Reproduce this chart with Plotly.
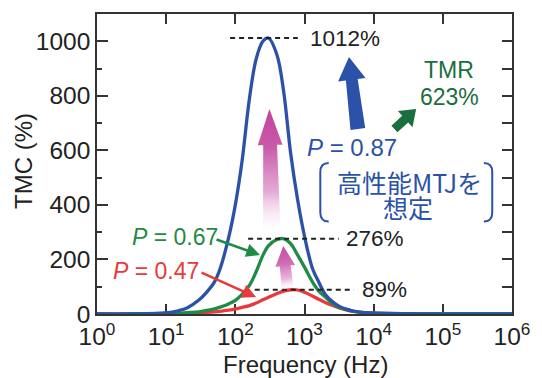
import math
import base64
import plotly.graph_objects as go

# ---------------- data ----------------
freq_hz = [1, 3, 10, 15, 20, 30, 40, 50, 60, 80, 100, 125, 160, 200, 250, 300,
           400, 500, 630, 800, 1000, 1300, 1600, 2000, 2500, 3200, 4000, 5000,
           7000, 10000, 30000, 100000, 1000000]

tmc_p047 = [0, 0, 1, 1, 2, 4, 6, 8, 10, 14, 18, 24, 31, 40, 52, 61,
            75, 84, 89, 88, 80, 66, 54, 42, 32, 22, 15, 10,
            5, 3, 1, 0, 0]

tmc_p067 = [0, 0, 2, 3, 5, 8, 14, 19, 25, 37, 50, 72, 105, 155, 215, 250,
            273, 276, 258, 215, 172, 118, 85, 62, 40, 24, 17, 11,
            5, 3, 1, 0, 0]

tmc_p087 = [0, 0, 4, 12, 22, 52, 85, 118, 165, 280, 400, 560, 790, 935, 1000, 1012,
            950, 815, 590, 415, 285, 168, 118, 72, 47, 28, 18, 11,
            6, 3, 1, 0, 0]

polarization_labels = ["0.47", "0.67", "0.87"]
tmr_label = "623%"
x_tick_exponents = [0, 1, 2, 3, 4, 5, 6]
y_tick_values = [0, 200, 400, 600, 800, 1000]

# ---------------- styling ----------------
W, H = 542, 378
ML, MR, MT, MB = 97, 25, 14, 64
PW, PH = W - ML - MR, H - MT - MB

BLUE = "#2b52a8"
GREEN = "#1f8b45"
DARK_GREEN = "#1b6e3e"
RED = "#e8393c"
AXIS = "#333333"
TEXT = "#222222"
LATIN = "Liberation Sans, Arial, sans-serif"
CJK = "Noto Sans CJK JP, sans-serif"


def px(x):
    """pixel x -> paper x"""
    return (x - ML) / PW


def py(y):
    """pixel y (from top) -> paper y"""
    return (H - MB - y) / PH


def arrow_polygon(tail, tip, w_tail, w_neck, head_w, head_len):
    dx, dy = tip[0] - tail[0], tip[1] - tail[1]
    n = math.hypot(dx, dy)
    ux, uy = dx / n, dy / n
    nx, ny = -uy, ux
    bx, by = tip[0] - ux * head_len, tip[1] - uy * head_len
    return [
        (tail[0] + nx * w_tail, tail[1] + ny * w_tail),
        (bx + nx * w_neck, by + ny * w_neck),
        (bx + nx * head_w, by + ny * head_w),
        tip,
        (bx - nx * head_w, by - ny * head_w),
        (bx - nx * w_neck, by - ny * w_neck),
        (tail[0] - nx * w_tail, tail[1] - ny * w_tail),
    ]


def solid_arrow_shape(pts, color):
    path = "M " + " L ".join(f"{px(x):.5f},{py(y):.5f}" for x, y in pts) + " Z"
    return dict(type="path", xref="paper", yref="paper", path=path,
                fillcolor=color, line=dict(width=0), layer="above")


def gradient_arrow_image(tail, tip, w_tail, w_neck, head_w, head_len, stops):
    pts = arrow_polygon(tail, tip, w_tail, w_neck, head_w, head_len)
    xs = [p[0] for p in pts]
    ys = [p[1] for p in pts]
    x0, x1 = min(xs) - 1, max(xs) + 1
    y0, y1 = min(ys) - 1, max(ys) + 1
    w, h = x1 - x0, y1 - y0
    poly = " ".join(f"{x - x0:.2f},{y - y0:.2f}" for x, y in pts)
    stop_xml = "".join(
        f'<stop offset="{o}" stop-color="{c}" stop-opacity="{a}"/>' for o, c, a in stops)
    svg = (f'<svg xmlns="http://www.w3.org/2000/svg" width="{w:.2f}" height="{h:.2f}" '
           f'viewBox="0 0 {w:.2f} {h:.2f}"><defs><linearGradient id="g" '
           f'gradientUnits="userSpaceOnUse" x1="{tip[0] - x0:.2f}" y1="{tip[1] - y0:.2f}" '
           f'x2="{tail[0] - x0:.2f}" y2="{tail[1] - y0:.2f}">{stop_xml}</linearGradient></defs>'
           f'<polygon points="{poly}" fill="url(#g)"/></svg>')
    src = "data:image/svg+xml;base64," + base64.b64encode(svg.encode()).decode()
    return dict(source=src, xref="paper", yref="paper", x=px(x0), y=py(y0),
                sizex=w / PW, sizey=h / PH, xanchor="left", yanchor="top",
                sizing="stretch", layer="above")


def bracket_shape(x_end, x_side, y_top, y_bot, r, color):
    p = (f"M {px(x_end):.5f},{py(y_top):.5f} "
         f"Q {px(x_side):.5f},{py(y_top):.5f} {px(x_side):.5f},{py(y_top + r):.5f} "
         f"L {px(x_side):.5f},{py(y_bot - r):.5f} "
         f"Q {px(x_side):.5f},{py(y_bot):.5f} {px(x_end):.5f},{py(y_bot):.5f}")
    return dict(type="path", xref="paper", yref="paper", path=p,
                line=dict(color=color, width=2), layer="above")


fig = go.Figure()

# TMC spectra (highest polarization drawn last, on top)
for vals, color in [(tmc_p047, RED), (tmc_p067, GREEN), (tmc_p087, BLUE)]:
    fig.add_trace(go.Scatter(
        x=freq_hz, y=vals, mode="lines",
        line=dict(color=color, width=3.3, shape="spline", smoothing=1),
        cliponaxis=False, hoverinfo="skip", showlegend=False))

# dashed guides at each peak value
guide_spans_hz = [(84, 800), (153, 3130), (191, 5180)]
label_left_px = [311, 347, 363]
for series, span, lx in zip([tmc_p087, tmc_p067, tmc_p047], guide_spans_hz, label_left_px):
    peak = max(series)
    fig.add_trace(go.Scatter(
        x=list(span), y=[peak, peak], mode="lines", yaxis="y2",
        line=dict(color="#222222", width=2, dash="5px,4px"),
        hoverinfo="skip", showlegend=False))
    fig.add_annotation(x=px(lx), y=peak, xref="paper", yref="y", text=f"{peak}%",
                       showarrow=False, xanchor="left", yanchor="middle",
                       font=dict(family=LATIN, size=22.5, color=TEXT))

annotations = [
    # axis titles
    dict(x=px(308), y=py(364), text="Frequency (Hz)", textangle=0,
         font=dict(family=LATIN, size=24, color=TEXT)),
    dict(x=px(22), y=py(161), text="TMC (%)", textangle=-90,
         font=dict(family=LATIN, size=24, color=TEXT)),
    # series labels
    dict(x=px(130), y=py(237), xanchor="left", text=f"<i>P</i> = {polarization_labels[1]}",
         font=dict(family=LATIN, size=23, color=GREEN)),
    dict(x=px(111), y=py(271), xanchor="left", text=f"<i>P</i> = {polarization_labels[0]}",
         font=dict(family=LATIN, size=23, color=RED)),
    dict(x=px(308), y=py(147), xanchor="left", text=f"<i>P</i> = {polarization_labels[2]}",
         font=dict(family=LATIN, size=24, color=BLUE)),
    dict(x=px(413), y=py(182), text="高性能MTJを",
         font=dict(family=CJK, size=25, color=BLUE)),
    dict(x=px(412), y=py(207), text="想定",
         font=dict(family=CJK, size=25, color=BLUE)),
    dict(x=px(453), y=py(70), text="TMR",
         font=dict(family=LATIN, size=23, color=DARK_GREEN)),
    dict(x=px(454), y=py(97), text=tmr_label,
         font=dict(family=LATIN, size=23, color=DARK_GREEN)),
]
for a in annotations:
    a.setdefault("xanchor", "center")
    fig.add_annotation(xref="paper", yref="paper", showarrow=False, yanchor="middle", **a)

# pointer arrows from the P labels to their curves
for tail, tip, color in [((217, 239), (262, 255), GREEN), ((202, 272), (258, 297), RED)]:
    fig.add_annotation(x=px(tip[0]), y=py(tip[1]), xref="paper", yref="paper",
                       ax=tail[0] - tip[0], ay=tail[1] - tip[1], text="",
                       showarrow=True, arrowhead=2, arrowsize=1.1, arrowwidth=2.5,
                       arrowcolor=color)

shapes = [
    solid_arrow_shape(arrow_polygon((361, 129), (352, 57), 7.5, 6, 14, 23), BLUE),
    solid_arrow_shape(arrow_polygon((398, 129), (420, 109), 4.5, 4.5, 11, 15), DARK_GREEN),
    bracket_shape(331.5, 323, 163, 221.5, 9, BLUE),
    bracket_shape(488.5, 497, 163, 221.5, 9, BLUE),
]

pink_stops_big = [(0, "#c2439c", 1), (0.3, "#c95aa9", 1), (0.65, "#e1a0d0", 0.9), (1, "#ffffff", 0)]
pink_stops_small = [(0, "#c24aa2", 1), (0.4, "#cf6fb5", 1), (0.75, "#e6b0d8", 0.9), (1, "#ffffff", 0)]
images = [
    gradient_arrow_image((274, 236), (271.5, 109), 9, 7, 12.5, 36, pink_stops_big),
    gradient_arrow_image((290, 290), (285.5, 246), 6, 5.5, 10, 20, pink_stops_small),
]

fig.update_layout(
    width=W, height=H,
    margin=dict(l=ML, r=MR, t=MT, b=MB, pad=0),
    paper_bgcolor="white", plot_bgcolor="white",
    shapes=shapes, images=images,
    xaxis=dict(
        type="log", range=[0, 6],
        tickvals=[10 ** k for k in x_tick_exponents],
        ticktext=[f"10<sup>{k}</sup>" for k in x_tick_exponents],
        ticks="inside", ticklen=10, tickwidth=1.5, tickcolor=AXIS,
        showline=True, linecolor=AXIS, linewidth=1.5, mirror="ticks",
        showgrid=False, zeroline=False, layer="below traces",
        tickfont=dict(family=LATIN, size=24.5, color=TEXT),
    ),
    yaxis=dict(
        range=[0, 1100], tickvals=y_tick_values,
        ticks="inside", ticklen=11, tickwidth=1.5, tickcolor=AXIS,
        minor=dict(dtick=100, tick0=0, ticks="inside", ticklen=5,
                   tickwidth=1.5, tickcolor=AXIS),
        showline=True, linecolor=AXIS, linewidth=1.5, mirror=True,
        showgrid=False, zeroline=False, layer="below traces",
        tickfont=dict(family=LATIN, size=24.5, color=TEXT),
    ),
    yaxis2=dict(
        overlaying="y", side="right", range=[0, 1100], dtick=100, tick0=0,
        ticks="inside", ticklen=10, tickwidth=1.5, tickcolor=AXIS,
        showticklabels=False, showline=False, showgrid=False, zeroline=False,
    ),
)

fig.write_html("out.html")
